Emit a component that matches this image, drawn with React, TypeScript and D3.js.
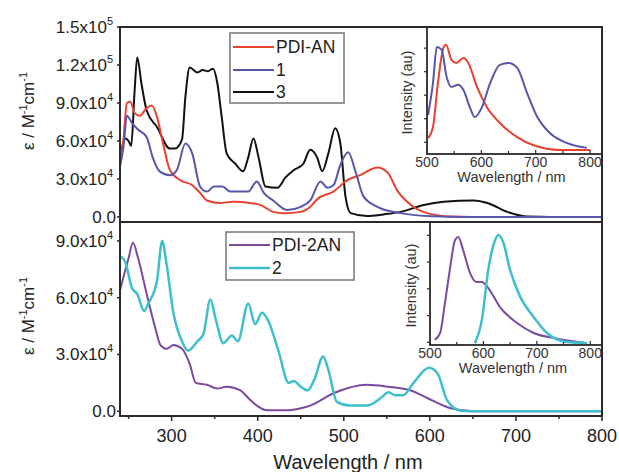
import React from 'react'
import * as d3 from 'd3'

const W = 619
const H = 472
const FONT = 'Liberation Sans, Arial, sans-serif'

// absorption, top panel: [wavelength nm, epsilon M-1 cm-1]
const pdiAN = [[240,43000],[244,61000],[248,90000],[252,91000],[257,82000],[263,80000],[271,86000],[277,88000],[283,79000],[290,58000],[298,37000],[310,29000],[324,25000],[333,19000],[341,13000],[356,11000],[372,12000],[391,11000],[403,9500],[418,4000],[430,3000],[450,4000],[461,8000],[469,14000],[488,20000],[504,29000],[519,33000],[539,39000],[551,35000],[562,21000],[578,9500],[597,3000],[624,300],[650,0],[800,0]]
const cmpd1 = [[240,40000],[244,55000],[248,80000],[254,74000],[261,69000],[271,63000],[278,47000],[286,36000],[298,33000],[306,37000],[316,58000],[324,50000],[333,24000],[341,20000],[349,24000],[359,24000],[368,20000],[380,20000],[389,20000],[399,28000],[407,19000],[418,13000],[434,5500],[450,8000],[461,13000],[473,28000],[481,23000],[488,25000],[496,41000],[505,51000],[514,35000],[523,16000],[539,8000],[566,3000],[604,500],[640,0],[800,0]]
const cmpd3 = [[240,45000],[246,62000],[250,60000],[253,56000],[257,100000],[260,126000],[265,105000],[271,84000],[283,71000],[298,54000],[304,54000],[312,61000],[316,95000],[321,118000],[330,114000],[336,116000],[342,115000],[348,117000],[353,106000],[358,80000],[364,50000],[374,42000],[383,36000],[389,47000],[395,62000],[401,47000],[409,24000],[423,23000],[432,31000],[442,37000],[453,42000],[461,53000],[469,47000],[475,36000],[482,50000],[490,70000],[496,58000],[502,16000],[508,3000],[527,700],[546,2000],[566,4000],[593,9500],[616,12000],[651,13000],[667,11000],[690,4000],[714,300],[740,0],[800,0]]

// absorption, bottom panel
const pdi2AN = [[240,64000],[250,81000],[255,89000],[261,81000],[271,62000],[281,44000],[287,35000],[294,33000],[302,35000],[312,33000],[321,25000],[328,15000],[341,14000],[353,12000],[364,13000],[380,11000],[389,7000],[399,3000],[411,500],[434,500],[450,1600],[461,3000],[488,9500],[527,14000],[551,13000],[578,11000],[597,7000],[624,1600],[651,0],[800,0]]
const cmpd2 = [[240,82000],[246,79000],[254,65000],[260,62000],[268,53000],[273,57000],[283,69000],[289,90000],[294,78000],[302,52000],[312,37000],[319,32000],[330,37000],[337,41000],[345,59000],[351,49000],[360,36000],[370,40000],[377,37000],[389,57000],[397,46000],[405,52000],[412,48000],[424,32000],[436,15000],[442,16000],[450,13000],[458,11000],[466,17000],[476,29000],[482,22000],[492,5000],[508,3000],[527,3000],[543,7000],[552,10000],[560,8500],[569,8500],[581,15000],[599,23000],[609,20000],[620,5800],[636,300],[660,0],[800,0]]

// emission insets (arbitrary units)
const emPdiAN = [[502,0.68],[511,1.15],[520,3.0],[530,4.5],[535,4.64],[545,4.0],[554,3.87],[567,4.08],[576,3.87],[592,2.85],[610,2.0],[634,1.32],[666,0.72],[695,0.38],[745,0.17],[800,0.17]]
const em1 = [[502,1.66],[511,3.02],[518,4.55],[527,4.43],[536,3.28],[545,2.85],[557,2.94],[567,2.72],[579,1.98],[588,1.57],[601,1.98],[616,3.0],[634,3.79],[650,3.87],[666,3.66],[684,2.6],[703,1.57],[726,0.89],[757,0.47],[794,0.26]]
const emPdi2AN = [[509,0.19],[519,0.45],[528,1.57],[537,2.8],[547,3.93],[553,4.04],[562,3.55],[575,2.69],[587,2.36],[597,2.36],[609,2.13],[631,1.42],[663,0.82],[694,0.45],[731,0.26],[794,0.07]]
const em2 = [[584,0.07],[597,0.93],[609,2.8],[622,3.93],[628,4.11],[637,3.85],[650,2.8],[669,1.8],[694,1.05],[719,0.45],[756,0.11],[794,0.07]]

const xTicks = [300, 400, 500, 600, 700, 800]
const xMinor = [250, 350, 450, 550, 650, 750]
const topYTicks = [0, 30000, 60000, 90000, 120000, 150000]
const topYLabels = [['0.0', ''], ['3.0x10', '4'], ['6.0x10', '4'], ['9.0x10', '4'], ['1.2x10', '5'], ['1.5x10', '5']]
const botYTicks = [0, 30000, 60000, 90000]
const botYLabels = [['0.0', ''], ['3.0x10', '4'], ['6.0x10', '4'], ['9.0x10', '4']]
const insetXTicks = [500, 600, 700, 800]
const insetXMinor = [550, 650, 750]
const inset1YTicks = [0.5, 1.5, 2.5, 3.5, 4.5]
const inset2YTicks = [0.1, 1.1, 2.1, 3.1, 4.1]

const RED = '#e8412f'
const BLUE = '#5656aa'
const BLACK = '#111111'
const PURPLE = '#7b4a9e'
const CYAN = '#3fbfcc'
const FRAME = '#2a2a2a'

const left = 120
const right = 602
const x = d3.scaleLinear().domain([240, 800]).range([left, right])
const yTop = d3.scaleLinear().domain([-4000, 150000]).range([222, 27])
const yBot = d3.scaleLinear().domain([-2500, 100000]).range([416, 222])
const xIn1 = d3.scaleLinear().domain([500, 822]).range([427, 602])
const yIn1 = d3.scaleLinear().domain([0, 5.4]).range([154, 27])
const xIn2 = d3.scaleLinear().domain([500, 822]).range([430, 602])
const yIn2 = d3.scaleLinear().domain([0, 4.6]).range([345, 222])

function path(data: number[][], sx: any, sy: any) {
  return d3.line<number[]>().x((d) => sx(d[0])).y((d) => sy(d[1])).curve(d3.curveMonotoneX)(data) || ''
}

function YTitle({ cy }: { cy: number }) {
  return (
    <text transform={`translate(34,${cy}) rotate(-90)`} textAnchor="middle" fontSize={17} fontFamily={FONT} fill="#222">
      <tspan>ε / M</tspan>
      <tspan dy={-7} fontSize={11}>-1</tspan>
      <tspan dy={7}>cm</tspan>
      <tspan dy={-7} fontSize={11}>-1</tspan>
    </text>
  )
}

function YLabels({ ticks, labels, sy }: { ticks: number[]; labels: string[][]; sy: any }) {
  return (
    <g fontFamily={FONT} fontSize={17} fill="#222">
      {ticks.map((t, i) => (
        <g key={t}>
          <line x1={left - 3} x2={left} y1={sy(t)} y2={sy(t)} stroke={FRAME} strokeWidth={1.5} />
          <text x={labels[i][1] ? 113 : 116} y={sy(t) + 6} textAnchor="end">
            <tspan>{labels[i][0]}</tspan>
            {labels[i][1] && <tspan dy={-8} fontSize={11}>{labels[i][1]}</tspan>}
          </text>
        </g>
      ))}
    </g>
  )
}

function Inset({ sx, sy, top, bottom, yTicks, series, labelX }: any) {
  const l = sx.range()[0]
  const r = sx.range()[1]
  return (
    <g>
      <rect x={l} y={top} width={r - l} height={bottom - top} fill="#fff" />
      {series.map((s: any, i: number) => (
        <path key={i} d={path(s.data, sx, sy)} fill="none" stroke={s.color} strokeWidth={s.w} />
      ))}
      <rect x={l} y={top} width={r - l} height={bottom - top} fill="none" stroke={FRAME} strokeWidth={1.8} />
      {yTicks.map((t: number) => (
        <line key={t} x1={l - 3} x2={l} y1={sy(t)} y2={sy(t)} stroke={FRAME} strokeWidth={1.2} />
      ))}
      {insetXMinor.map((t) => (
        <line key={t} x1={sx(t)} x2={sx(t)} y1={bottom} y2={bottom - 3} stroke={FRAME} strokeWidth={1.2} />
      ))}
      {insetXTicks.map((t) => (
        <g key={t}>
          <line x1={sx(t)} x2={sx(t)} y1={bottom} y2={bottom - 4} stroke={FRAME} strokeWidth={1.2} />
          <text x={sx(t)} y={bottom + 13} textAnchor="middle" fontSize={14} fontFamily={FONT} fill="#333">{t}</text>
        </g>
      ))}
      <text x={(l + r) / 2 - 3} y={bottom + 28} textAnchor="middle" fontSize={14.5} fontFamily={FONT} fill="#333">Wavelength / nm</text>
      <text transform={`translate(${labelX},${(top + bottom) / 2 + 2}) rotate(-90)`} textAnchor="middle" fontSize={14.5} fontFamily={FONT} fill="#333">Intensity (au)</text>
    </g>
  )
}

function Legend({ x0, y0, w, h, items }: any) {
  return (
    <g fontFamily={FONT} fontSize={17.5} fill="#222">
      <rect x={x0} y={y0} width={w} height={h} fill="#fff" stroke="#777" strokeWidth={1.5} />
      {items.map((it: any) => (
        <g key={it.name}>
          <line x1={x0 + 3} x2={x0 + 44} y1={it.y} y2={it.y} stroke={it.color} strokeWidth={it.w} />
          <text x={x0 + 46} y={it.y + 6}>{it.name}</text>
        </g>
      ))}
    </g>
  )
}

export default function App() {
  return (
    <div style={{ position: 'absolute', left: 0, top: 0 }}>
      <svg width={W} height={H} viewBox={`0 0 ${W} ${H}`} style={{ display: 'block', background: '#fff' }}>
        <defs>
          <clipPath id="clipTop"><rect x={left} y={27} width={right - left} height={195} /></clipPath>
          <clipPath id="clipBot"><rect x={left} y={222} width={right - left} height={194} /></clipPath>
        </defs>

        {/* top panel */}
        <g clipPath="url(#clipTop)">
          <path d={path(cmpd3, x, yTop)} fill="none" stroke={BLACK} strokeWidth={2} />
          <path d={path(pdiAN, x, yTop)} fill="none" stroke={RED} strokeWidth={2} />
          <path d={path(cmpd1, x, yTop)} fill="none" stroke={BLUE} strokeWidth={2} />
        </g>
        <YLabels ticks={topYTicks} labels={topYLabels} sy={yTop} />
        <YTitle cy={111} />
        <Legend x0={230} y0={33} w={114} h={70} items={[
          { name: 'PDI-AN', color: RED, y: 47, w: 2 },
          { name: '1', color: BLUE, y: 70, w: 2 },
          { name: '3', color: BLACK, y: 92, w: 2 },
        ]} />
        <Inset sx={xIn1} sy={yIn1} top={27} bottom={154} yTicks={inset1YTicks} labelX={412}
          series={[{ data: emPdiAN, color: RED, w: 2 }, { data: em1, color: BLUE, w: 2 }]} />

        {/* bottom panel */}
        <g clipPath="url(#clipBot)">
          <path d={path(pdi2AN, x, yBot)} fill="none" stroke={PURPLE} strokeWidth={2} />
          <path d={path(cmpd2, x, yBot)} fill="none" stroke={CYAN} strokeWidth={2.5} />
        </g>
        <YLabels ticks={botYTicks} labels={botYLabels} sy={yBot} />
        <YTitle cy={316} />
        <Legend x0={226} y0={232} w={128} h={48} items={[
          { name: 'PDI-2AN', color: PURPLE, y: 245, w: 2 },
          { name: '2', color: CYAN, y: 268, w: 2.5 },
        ]} />
        <Inset sx={xIn2} sy={yIn2} top={222} bottom={345} yTicks={inset2YTicks} labelX={416}
          series={[{ data: emPdi2AN, color: PURPLE, w: 2 }, { data: em2, color: CYAN, w: 2.5 }]} />

        {/* frames */}
        <rect x={left} y={27} width={right - left} height={195} fill="none" stroke={FRAME} strokeWidth={2} />
        <rect x={left} y={222} width={right - left} height={194} fill="none" stroke={FRAME} strokeWidth={2} />

        {/* x axis */}
        {xMinor.map((t) => (
          <line key={t} x1={x(t)} x2={x(t)} y1={416} y2={419} stroke={FRAME} strokeWidth={1.5} />
        ))}
        {xTicks.map((t) => (
          <g key={t}>
            <line x1={x(t)} x2={x(t)} y1={416} y2={421} stroke={FRAME} strokeWidth={1.5} />
            <text x={x(t)} y={442} textAnchor="middle" fontSize={18} fontFamily={FONT} fill="#222">{t}</text>
          </g>
        ))}
        <text x={348} y={469} textAnchor="middle" fontSize={20} fontFamily={FONT} fill="#222">Wavelength / nm</text>
      </svg>
    </div>
  )
}
